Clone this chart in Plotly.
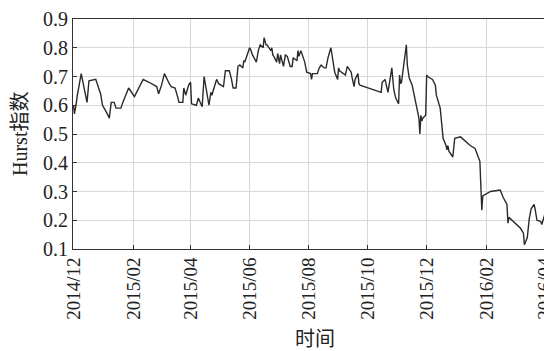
import plotly.graph_objects as go

dates = [
    "2014-12-01", "2014-12-02", "2014-12-04", "2014-12-05", "2014-12-09", "2014-12-11",
    "2014-12-15", "2014-12-17", "2014-12-24", "2014-12-29", "2014-12-31",
    "2015-01-05", "2015-01-07", "2015-01-09", "2015-01-12", "2015-01-14", "2015-01-19",
    "2015-01-21", "2015-01-27", "2015-02-02", "2015-02-11", "2015-02-17", "2015-02-25",
    "2015-02-27", "2015-03-02", "2015-03-05", "2015-03-09", "2015-03-10", "2015-03-12",
    "2015-03-16", "2015-03-19", "2015-03-20", "2015-03-24", "2015-03-25", "2015-03-27",
    "2015-03-30", "2015-04-01", "2015-04-02", "2015-04-07", "2015-04-08", "2015-04-09",
    "2015-04-13", "2015-04-15", "2015-04-17", "2015-04-20", "2015-04-22", "2015-04-23",
    "2015-04-27", "2015-04-28", "2015-04-30", "2015-05-05", "2015-05-07", "2015-05-11",
    "2015-05-13", "2015-05-15", "2015-05-18", "2015-05-20", "2015-05-22", "2015-05-25",
    "2015-05-26", "2015-05-27", "2015-05-28", "2015-06-01", "2015-06-02", "2015-06-04",
    "2015-06-08", "2015-06-10", "2015-06-12", "2015-06-15", "2015-06-16", "2015-06-18",
    "2015-06-19", "2015-06-23", "2015-06-24", "2015-06-25", "2015-06-26", "2015-06-29",
    "2015-06-30", "2015-07-02", "2015-07-03", "2015-07-06", "2015-07-08", "2015-07-10",
    "2015-07-13", "2015-07-15", "2015-07-16", "2015-07-20", "2015-07-21", "2015-07-22",
    "2015-07-24", "2015-07-27", "2015-07-28", "2015-07-30", "2015-08-03", "2015-08-04",
    "2015-08-05", "2015-08-10", "2015-08-12", "2015-08-14", "2015-08-17", "2015-08-19",
    "2015-08-21", "2015-08-24", "2015-08-26", "2015-08-28", "2015-08-31", "2015-09-01",
    "2015-09-02", "2015-09-07", "2015-09-08", "2015-09-10", "2015-09-14", "2015-09-15",
    "2015-09-17", "2015-09-18", "2015-09-21", "2015-09-22", "2015-09-23", "2015-10-15",
    "2015-10-16", "2015-10-19", "2015-10-20", "2015-10-22", "2015-10-26", "2015-10-27",
    "2015-10-28", "2015-10-30", "2015-11-02", "2015-11-03", "2015-11-04", "2015-11-05",
    "2015-11-10", "2015-11-11", "2015-11-13", "2015-11-16", "2015-11-17", "2015-11-20",
    "2015-11-23", "2015-11-24", "2015-11-25", "2015-11-26", "2015-11-27", "2015-11-30",
    "2015-12-01", "2015-12-02", "2015-12-07", "2015-12-10", "2015-12-11", "2015-12-15",
    "2015-12-16", "2015-12-17", "2015-12-18", "2015-12-21", "2015-12-22", "2015-12-23",
    "2015-12-24", "2015-12-28", "2015-12-29", "2015-12-30", "2016-01-05", "2016-01-08",
    "2016-01-15", "2016-01-20", "2016-01-22", "2016-01-25", "2016-01-26", "2016-01-27",
    "2016-01-28", "2016-02-05", "2016-02-15", "2016-02-18", "2016-02-22", "2016-02-23",
    "2016-02-24", "2016-02-29", "2016-03-07", "2016-03-10", "2016-03-11", "2016-03-14",
    "2016-03-16", "2016-03-18", "2016-03-21", "2016-03-22", "2016-03-24", "2016-03-28",
    "2016-03-29", "2016-04-01", "2016-04-05", "2016-04-07",
]

hurst = [
    0.60, 0.57, 0.61, 0.635, 0.71, 0.68,
    0.61, 0.685, 0.69, 0.64, 0.60,
    0.57, 0.555, 0.61, 0.61, 0.59, 0.59,
    0.61, 0.66, 0.63, 0.69, 0.68, 0.665,
    0.64, 0.67, 0.71, 0.68, 0.675, 0.665,
    0.66, 0.625, 0.61, 0.61, 0.66, 0.635,
    0.67, 0.68, 0.605, 0.60, 0.61, 0.625,
    0.595, 0.70, 0.66, 0.60, 0.645, 0.635,
    0.68, 0.69, 0.675, 0.665, 0.72, 0.72,
    0.695, 0.66, 0.66, 0.735, 0.74, 0.73,
    0.755, 0.75, 0.76, 0.80, 0.795, 0.775,
    0.75, 0.79, 0.81, 0.80, 0.835, 0.81,
    0.81, 0.79, 0.80, 0.775, 0.77, 0.75,
    0.78, 0.745, 0.775, 0.735, 0.775, 0.77,
    0.735, 0.735, 0.765, 0.755, 0.79, 0.77,
    0.79, 0.765, 0.75, 0.715, 0.71, 0.69,
    0.71, 0.71, 0.73, 0.74, 0.73, 0.73,
    0.765, 0.80, 0.755, 0.715, 0.69, 0.73,
    0.72, 0.71, 0.705, 0.735, 0.715, 0.695,
    0.665, 0.69, 0.71, 0.675, 0.67, 0.645,
    0.68, 0.69, 0.67, 0.645, 0.73, 0.695,
    0.655, 0.625, 0.605, 0.705, 0.675, 0.68,
    0.81, 0.74, 0.695, 0.67, 0.655, 0.61,
    0.555, 0.50, 0.565, 0.545, 0.555, 0.565,
    0.705, 0.70, 0.69, 0.67, 0.635, 0.59,
    0.545, 0.50, 0.485, 0.46, 0.445, 0.46,
    0.44, 0.42, 0.47, 0.485, 0.49, 0.48,
    0.46, 0.45, 0.43, 0.405, 0.32, 0.235,
    0.285, 0.30, 0.305, 0.28, 0.255, 0.19,
    0.21, 0.195, 0.172, 0.155, 0.115, 0.14,
    0.205, 0.24, 0.255, 0.24, 0.20, 0.195,
    0.185, 0.22, 0.215, 0.21,
]

x_tick_vals = ["2014-12-01", "2015-02-01", "2015-04-01", "2015-06-01", "2015-08-01",
               "2015-10-01", "2015-12-01", "2016-02-01", "2016-04-01"]
x_tick_text = ["2014/12", "2015/02", "2015/04", "2015/06", "2015/08",
               "2015/10", "2015/12", "2016/02", "2016/04"]
y_tick_vals = [0.1, 0.2, 0.3, 0.4, 0.5, 0.6, 0.7, 0.8, 0.9]
y_tick_text = ["0.1", "0.2", "0.3", "0.4", "0.5", "0.6", "0.7", "0.8", "0.9"]

x_title = "时间"
y_title = "Hurst指数"

font_fam = "Liberation Serif, Noto Sans CJK SC, serif"

fig = go.Figure()
fig.add_trace(go.Scatter(
    x=dates, y=hurst, mode="lines",
    line=dict(color="#2a2a2a", width=1.4),
    showlegend=False,
))

# The page body has an 8px default margin; the figure is sized to fit the window.
fig.update_layout(
    width=544, height=343,
    margin=dict(l=65, r=1, t=11, b=102, autoexpand=False),
    paper_bgcolor="white", plot_bgcolor="white",
    font=dict(family=font_fam, size=20, color="#222"),
    xaxis=dict(
        type="date",
        range=["2014-11-30 12:00", "2016-04-07 12:00"],
        tickmode="array", tickvals=x_tick_vals, ticktext=x_tick_text,
        tickangle=-90,
        tickfont=dict(family=font_fam, size=19, color="#222"),
        ticklabeloverflow="allow",
        showgrid=True, gridcolor="#d8d8d8", gridwidth=1,
        showline=True, linecolor="#333", linewidth=1, mirror=True,
        ticks="inside", ticklen=4, tickcolor="#333",
        zeroline=False, automargin=False,
    ),
    yaxis=dict(
        range=[0.1, 0.9],
        tickmode="array", tickvals=y_tick_vals, ticktext=y_tick_text,
        tickfont=dict(family=font_fam, size=20, color="#222"),
        showgrid=True, gridcolor="#d8d8d8", gridwidth=1,
        showline=True, linecolor="#333", linewidth=1, mirror=True,
        ticks="inside", ticklen=4, tickcolor="#333",
        zeroline=False, automargin=False,
    ),
    annotations=[
        dict(text=y_title, xref="paper", yref="paper", x=0, y=0.5,
             xanchor="center", yanchor="middle", textangle=-90,
             xshift=-53, showarrow=False,
             font=dict(family=font_fam, size=20, color="#222")),
        dict(text=x_title, xref="paper", yref="paper", x=0.5, y=0,
             xanchor="center", yanchor="middle", xshift=3, yshift=-88,
             showarrow=False,
             font=dict(family="Noto Sans CJK SC", size=20, color="#222")),
    ],
)

fig.write_html("out.html")
